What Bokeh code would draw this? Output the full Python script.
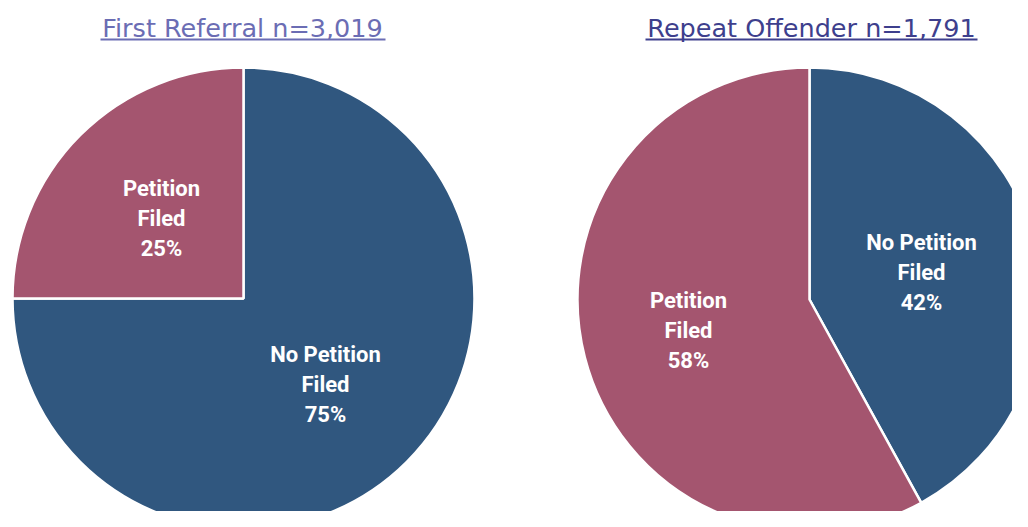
import math
from bokeh.plotting import figure
from bokeh.models import Range1d, ColumnDataSource
from bokeh.core.properties import value
from bokeh.embed import file_html
from bokeh.resources import INLINE

# ---- data ----
titles = ["First Referral n=3,019", "Repeat Offender n=1,791"]
categories = ["No Petition Filed", "Petition Filed"]
first_referral = [75, 25]
repeat_offender = [42, 58]

# ---- style ----
slice_colors = ["#30577F", "#A4556F"]
title_colors = ["#6B6DB4", "#3E3F8D"]
centers = [(243, 298), (809, 299)]
radii = [231, 232]
label_pos = [
    [(325, 384), (161, 218)],
    [(921, 272), (688, 330)],
]
title_x = [242, 811]
underline = [(100, 385), (645, 977)]

W, H = 1012, 511
p = figure(width=W, height=H, x_range=Range1d(0, W), y_range=Range1d(-H, 0),
           min_border=0, toolbar_location=None, output_backend="svg")
p.axis.visible = False
p.grid.visible = False
p.outline_line_color = None
p.background_fill_color = "white"

for k, vals in enumerate([first_referral, repeat_offender]):
    total = float(sum(vals))
    starts, ends, cum = [], [], 0.0
    for v in vals:
        starts.append(math.pi / 2 - 2 * math.pi * cum / total)
        cum += v
        ends.append(math.pi / 2 - 2 * math.pi * cum / total)
    cx, cy = centers[k]
    src = ColumnDataSource(dict(x=[cx] * len(vals), y=[-cy] * len(vals),
                                start=starts, end=ends, color=slice_colors))
    p.wedge(x="x", y="y", radius=radii[k], start_angle="start", end_angle="end",
            direction="clock", fill_color="color", line_color="white", line_width=2.5,
            source=src)
    labels = []
    for c, v in zip(categories, vals):
        words = c.split(" ")
        name = (" ".join(words[:-1]) + "\n" + words[-1])
        labels.append(f"{name}\n{v}%")
    lx = [pt[0] for pt in label_pos[k]]
    ly = [-pt[1] for pt in label_pos[k]]
    p.text(x=lx, y=ly, text=labels, text_color="white", text_font=value("Roboto"),
           text_font_style="bold", text_font_size="22px", text_align="center",
           text_baseline="middle", text_line_height=1.2)
    p.text(x=[title_x[k]], y=[-27], text=[titles[k]], text_color=title_colors[k],
           text_font=value("DejaVu Sans"), text_font_size="25.5px", text_align="center",
           text_baseline="middle")
    x0, x1 = underline[k]
    p.segment(x0=[x0], y0=[-39], x1=[x1], y1=[-39], line_color=title_colors[k], line_width=2)

open("out.html", "w").write(file_html(p, INLINE))
